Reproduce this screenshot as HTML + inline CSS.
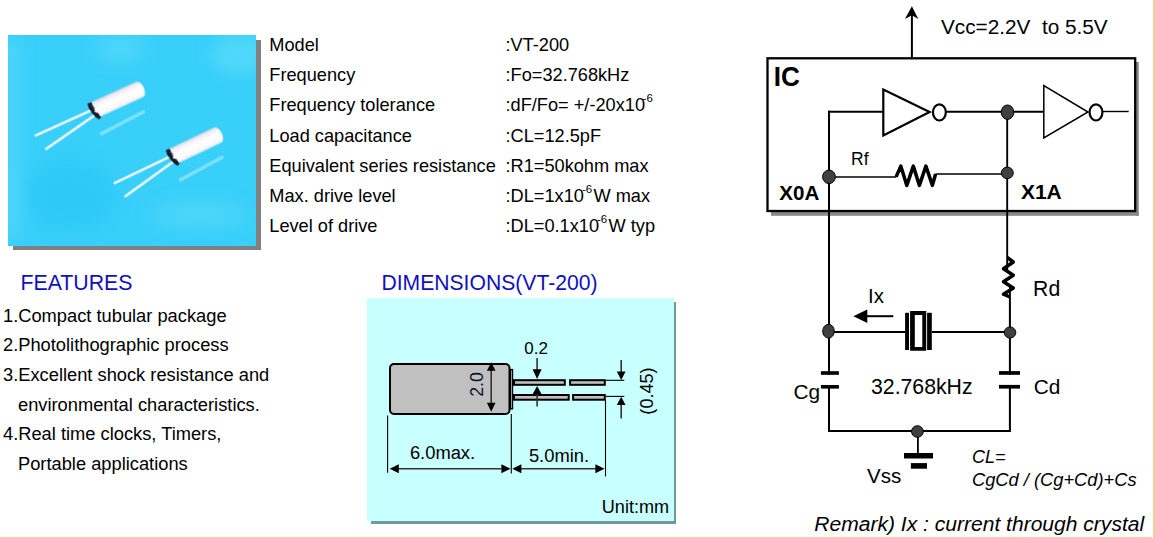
<!DOCTYPE html>
<html><head><meta charset="utf-8">
<style>
html,body{margin:0;padding:0;background:#fff;width:1155px;height:538px;overflow:hidden}
svg{display:block;font-family:"Liberation Sans",sans-serif}
text{white-space:pre}
</style></head><body>
<svg width="1155" height="538" viewBox="0 0 1155 538">
<defs>
<linearGradient id="sky" x1="0" y1="0" x2="1" y2="0">
<stop offset="0" stop-color="#47d6f8"/>
<stop offset="0.5" stop-color="#3fd3fa"/>
<stop offset="1" stop-color="#3ed4fb"/>
</linearGradient>
<linearGradient id="cyl" x1="0" y1="0" x2="0" y2="1">
<stop offset="0" stop-color="#d2d4e0"/>
<stop offset="0.2" stop-color="#f4f4f8"/>
<stop offset="0.5" stop-color="#ffffff"/>
<stop offset="0.85" stop-color="#f8f8fc"/>
<stop offset="1" stop-color="#e0e4f0"/>
</linearGradient>
<filter id="soft" x="-20%" y="-50%" width="140%" height="200%"><feGaussianBlur stdDeviation="0.55"/></filter>
<filter id="blob" x="-50%" y="-50%" width="200%" height="200%"><feGaussianBlur stdDeviation="8"/></filter>
<clipPath id="pclip"><rect x="8" y="35" width="248" height="211"/></clipPath>
</defs>
<rect x="0" y="0" width="1155" height="538" fill="#fff"/>
<!-- orange page edges -->
<rect x="0" y="536" width="1155" height="1" fill="#fffaec"/>
<rect x="0" y="537" width="1155" height="1" fill="#eccdb0"/>
<rect x="1152" y="0" width="1" height="538" fill="#fffbea"/>
<rect x="1153" y="0" width="1" height="538" fill="#ecd0ae"/>
<rect x="1154" y="0" width="1" height="538" fill="#f9ca96"/>

<!-- PHOTO -->
<g id="photo">
<rect x="13" y="40" width="248" height="210" fill="#808080"/>
<rect x="8" y="35" width="248" height="211" fill="#38cff9"/>
<g clip-path="url(#pclip)" filter="url(#blob)" opacity="0.7">
<rect x="4" y="40" width="16" height="200" fill="#5ad9f8"/>
<ellipse cx="240" cy="55" rx="30" ry="20" fill="#5adcfb"/>
<ellipse cx="120" cy="50" rx="25" ry="14" fill="#55dafa"/>
<ellipse cx="200" cy="215" rx="50" ry="15" fill="#52d8fa"/>
<ellipse cx="70" cy="195" rx="45" ry="35" fill="#2cc8f7"/>
<rect x="4" y="40" width="14" height="90" fill="#5ad9f8"/>
</g>
<g id="x1" transform="translate(93.15 110.55) rotate(-24.4)" filter="url(#soft)">
<path d="M-2 24.5L45.5 22" stroke="#8fe4fa" stroke-width="3.4" stroke-linecap="round" opacity="0.8"/>
<path d="M-3 -1H-62.5" stroke="#f4f6fb" stroke-width="2.5" stroke-linecap="round"/>
<path d="M-1 5L-58.5 15.5" stroke="#f4f6fb" stroke-width="2.5" stroke-linecap="round"/>
<path d="M0 -8.6H51A4.5 8.6 0 0 1 51 8.6H0Z" fill="url(#cyl)"/>
<path d="M-2.5 -8.5L1.8 -8.5L2.2 -2L1 2L3.5 4L4.5 9.5L1.5 10.5L-1 6L-2 2L-3 -3Z" fill="#121a2e"/>
<path d="M0.5 -6L2 -3L1.5 1" stroke="#5a6a88" stroke-width="0.8" fill="none"/>
</g>
<use href="#x1" transform="translate(78.45 46.45) rotate(-1.1 93.15 110.55)"/>
</g>

<!-- SPEC TABLE -->
<g font-size="18.2" fill="#000">
<text x="269.3" y="51">Model</text>
<text x="269.3" y="81">Frequency</text>
<text x="269.3" y="111">Frequency tolerance</text>
<text x="269.3" y="142">Load capacitance</text>
<text x="269.3" y="172">Equivalent series resistance</text>
<text x="269.3" y="202">Max. drive level</text>
<text x="269.3" y="232">Level of drive</text>
<text x="505.5" y="51">:VT-200</text>
<text x="505.5" y="81">:Fo=32.768kHz</text>
<text x="505.5" y="111">:dF/Fo= +/-20x10<tspan font-size="11.5" dy="-9.2" dx="-2.4">-6</tspan></text>
<text x="505.5" y="142">:CL=12.5pF</text>
<text x="505.5" y="172">:R1=50kohm max</text>
<text x="505.5" y="202">:DL=1x10<tspan font-size="11.5" dy="-9.2" dx="-2">-6</tspan><tspan dy="9.2" dx="1.3">W max</tspan></text>
<text x="505.5" y="232">:DL=0.1x10<tspan font-size="11.5" dy="-9.2" dx="-2">-6</tspan><tspan dy="9.2" dx="1.3">W typ</tspan></text>
</g>

<!-- FEATURES -->
<text x="20.5" y="290" font-size="21.3" fill="#1010c0">FEATURES</text>
<g font-size="18.3" fill="#000">
<text x="3" y="321.6">1.Compact tubular package</text>
<text x="3" y="351.2">2.Photolithographic process</text>
<text x="3" y="380.8">3.Excellent shock resistance and</text>
<text x="18" y="410.6">environmental characteristics.</text>
<text x="3" y="440.4">4.Real time clocks, Timers,</text>
<text x="18" y="470.2">Portable applications</text>
</g>

<!-- DIMENSIONS -->
<text x="381.4" y="290" font-size="21.15" fill="#1010c0">DIMENSIONS(VT-200)</text>
<g id="dim">
<rect x="674" y="302" width="2" height="222" fill="#6f9a9a"/>
<rect x="371" y="521" width="305" height="3" fill="#6f9a9a"/>
<rect x="367" y="298" width="307" height="223" fill="#c8ffff"/>
<!-- body -->
<rect x="390" y="364" width="119.5" height="50" rx="4" fill="#c0c0c0" stroke="#000" stroke-width="2"/>
<rect x="510.3" y="369.6" width="2.2" height="39.2" fill="#c0c0c0" stroke="#000" stroke-width="1.4"/>
<!-- leads -->
<g fill="#c0c0c0" stroke="#000" stroke-width="2">
<rect x="514" y="380.2" width="50.8" height="4.6"/>
<rect x="570.1" y="380.2" width="34.7" height="4.6"/>
<rect x="514" y="395" width="54.7" height="4.7"/>
<rect x="573.1" y="395" width="31.7" height="4.7"/>
</g>
<!-- extension lines -->
<g stroke="#000" stroke-width="1.1" fill="none">
<path d="M387.6 415.5V472.7"/>
<path d="M511.3 414V473.5"/>
<path d="M605.5 400V476.5"/>
<path d="M605.8 380.3H624.3"/>
<path d="M605.8 396.4H624.3"/>
</g>
<!-- dim lines -->
<g stroke="#333" stroke-width="1.6" fill="none">
<path d="M398 468.8H501.5"/>
<path d="M521 468.8H596"/>
<path d="M491.2 370V403"/>
<path d="M537.1 358V372"/>
<path d="M537.1 392V406.4"/>
<path d="M621.2 360V372"/>
<path d="M621.2 404V418.6"/>
</g>
<g fill="#000">
<path d="M389.7 468.8L398.8 464.3L398.8 473.3Z"/>
<path d="M510.5 468.8L501.4 464.3L501.4 473.3Z"/>
<path d="M512.3 468.8L521.4 464.3L521.4 473.3Z"/>
<path d="M604.5 468.8L595.4 464.3L595.4 473.3Z"/>
<path d="M491.2 362.2L486.9 370.8L495.5 370.8Z"/>
<path d="M491.2 411.8L486.9 402.8L495.5 402.8Z"/>
<path d="M537.1 379L532.6 369.2L541.6 369.2Z"/>
<path d="M537.1 386L532.6 394.2L541.6 394.2Z"/>
<path d="M621.2 380L616.8 371.6L625.6 371.6Z"/>
<path d="M621.2 396.8L616.8 405L625.6 405Z"/>
</g>
<g font-size="17.5" fill="#000">
<text x="409.9" y="459" font-size="18.35">6.0max.</text>
<text x="528.9" y="461.5" font-size="18.35">5.0min.</text>
<text x="524.3" y="353.6" font-size="16.95">0.2</text>
<text transform="translate(482.9 384.5) rotate(-90)" text-anchor="middle" font-size="17.8" fill="#0c1428">2.0</text>
<text transform="translate(653.4 391) rotate(-90)" text-anchor="middle" font-size="18.1">(0.45)</text>
<text x="601.8" y="513" font-size="18.1">Unit:mm</text>
</g>
</g>

<!-- CIRCUIT -->
<g id="circuit">
<!-- IC box shadow -->
<rect x="1136" y="62" width="2.8" height="153.8" fill="#888"/>
<rect x="771" y="212" width="367.8" height="3.8" fill="#888"/>
<rect x="767.5" y="58.3" width="367.7" height="152.7" fill="#fff" stroke="#000" stroke-width="2.3"/>
<!-- Vcc arrow -->
<path d="M911.9 57V15" stroke="#000" stroke-width="2"/>
<path d="M911.9 6.2L918.3 19L911.9 15.2L904.9 19Z" fill="#000"/>
<!-- wires -->
<g stroke="#000" fill="none">
<path d="M829 110.8V431H1009.9V297" stroke-width="2"/>
<path d="M828 111.7H883" stroke-width="1.9"/>
<path d="M946 111.7H1043.5" stroke-width="1.9"/>
<path d="M1007.2 112V270" stroke-width="1.9"/>
<path d="M1009.9 286V297" stroke-width="1.9"/>
<path d="M1103 111.5H1128.7" stroke-width="1.4"/>
<path d="M829 177H896.1" stroke-width="1.6"/>
<path d="M935.6 174H1007" stroke-width="1.6"/>
<path d="M896.1 176.9L900.8 166.1L906.8 185.4L913.3 166.1L919.4 185.4L925.9 166.1L932.4 185.4L935.6 174" stroke-width="3.5" stroke-linejoin="round"/>
<path d="M1007.2 257.5L1013.3 262L1003.5 268.8L1013.3 275.3L1003.5 281.8L1013.3 288L1003.5 294.2L1009.9 297" stroke-width="3.5" stroke-linejoin="round"/>
<!-- inverters -->
<path d="M883.3 89.6V135.5L929.6 112Z" stroke-width="2.2" fill="#fff"/>
<ellipse cx="939.4" cy="112.4" rx="6.4" ry="8.1" stroke-width="2.2" fill="#fff"/>
<path d="M1043.8 85.5V138L1088 112Z" stroke-width="1.5" fill="#fff"/>
<ellipse cx="1096" cy="112.4" rx="6.4" ry="8.1" stroke-width="2.2" fill="#fff"/>
<!-- crystal wire -->
<path d="M829 331.9H905M932 331.9H1010" stroke-width="2"/>
<!-- capacitor wires gap drawn later -->
<!-- Ix arrow -->
<path d="M866 316.2H893.3" stroke-width="2"/>
<!-- ground stem -->
<path d="M917.9 431V453.5" stroke-width="1.8"/>
</g>
<!-- capacitor gaps -->
<rect x="815" y="375" width="30" height="10" fill="#fff"/>
<rect x="995" y="375" width="30" height="10" fill="#fff"/>
<g fill="#000">
<rect x="820.9" y="371.2" width="18" height="3.6"/>
<rect x="820.9" y="385" width="18" height="3.6"/>
<rect x="999" y="371.1" width="21" height="3.7"/>
<rect x="999" y="384.9" width="21" height="3.7"/>
<rect x="904" y="453" width="29" height="5.5"/>
<rect x="910.9" y="463.1" width="16.1" height="5.6"/>
<!-- crystal -->
<rect x="905.1" y="312.8" width="3.9" height="37.2"/>
<path d="M910.1 310.9H926.2V350.7H910.1Z M914.8 315V347H922.3V315Z" fill-rule="evenodd"/>
<rect x="927.1" y="312.8" width="4.7" height="37.2"/>
<path d="M853.4 316.2L867.3 309.5L867.3 322.9Z"/>
</g>
<!-- dots -->
<g fill="#404040" stroke="#000" stroke-width="1">
<ellipse cx="1007.5" cy="112.2" rx="6.3" ry="7.2"/>
<ellipse cx="829" cy="176.8" rx="6.4" ry="6.8"/>
<ellipse cx="1007.3" cy="172.9" rx="6" ry="5.8"/>
<ellipse cx="828.5" cy="331.2" rx="5.8" ry="6.9"/>
<ellipse cx="1010" cy="332.5" rx="5.8" ry="5.6"/>
<ellipse cx="917.4" cy="431.5" rx="5.9" ry="5.8"/>
</g>
<text x="773.8" y="85.5" font-size="28" font-weight="bold" textLength="26.2" lengthAdjust="spacingAndGlyphs">IC</text>
<text x="851" y="164.5" font-size="17.5">Rf</text>
<text x="779.3" y="199.5" font-size="20.6" font-weight="bold">X0A</text>
<text x="1020.9" y="198.7" font-size="21" font-weight="bold">X1A</text>
<text x="1033.1" y="295.5" font-size="21.2">Rd</text>
<text x="868" y="302.6" font-size="20.5">Ix</text>
<text x="793.4" y="399.3" font-size="20.8">Cg</text>
<text x="871" y="394" font-size="21.25">32.768kHz</text>
<text x="1033.8" y="393.8" font-size="20.8">Cd</text>
<text x="867" y="482.7" font-size="20.5">Vss</text>
<g font-style="italic" font-size="18">
<text x="972" y="462.5">CL=</text>
<text x="972" y="486" font-size="18.3">CgCd / (Cg+Cd)+Cs</text>
<text x="814.3" y="530.8" font-size="21.05">Remark) Ix : current through crystal</text>
</g>
</g>

<text x="941" y="33.5" font-size="20.75" fill="#000">Vcc=2.2V  to 5.5V</text>
</svg>
</body></html>
